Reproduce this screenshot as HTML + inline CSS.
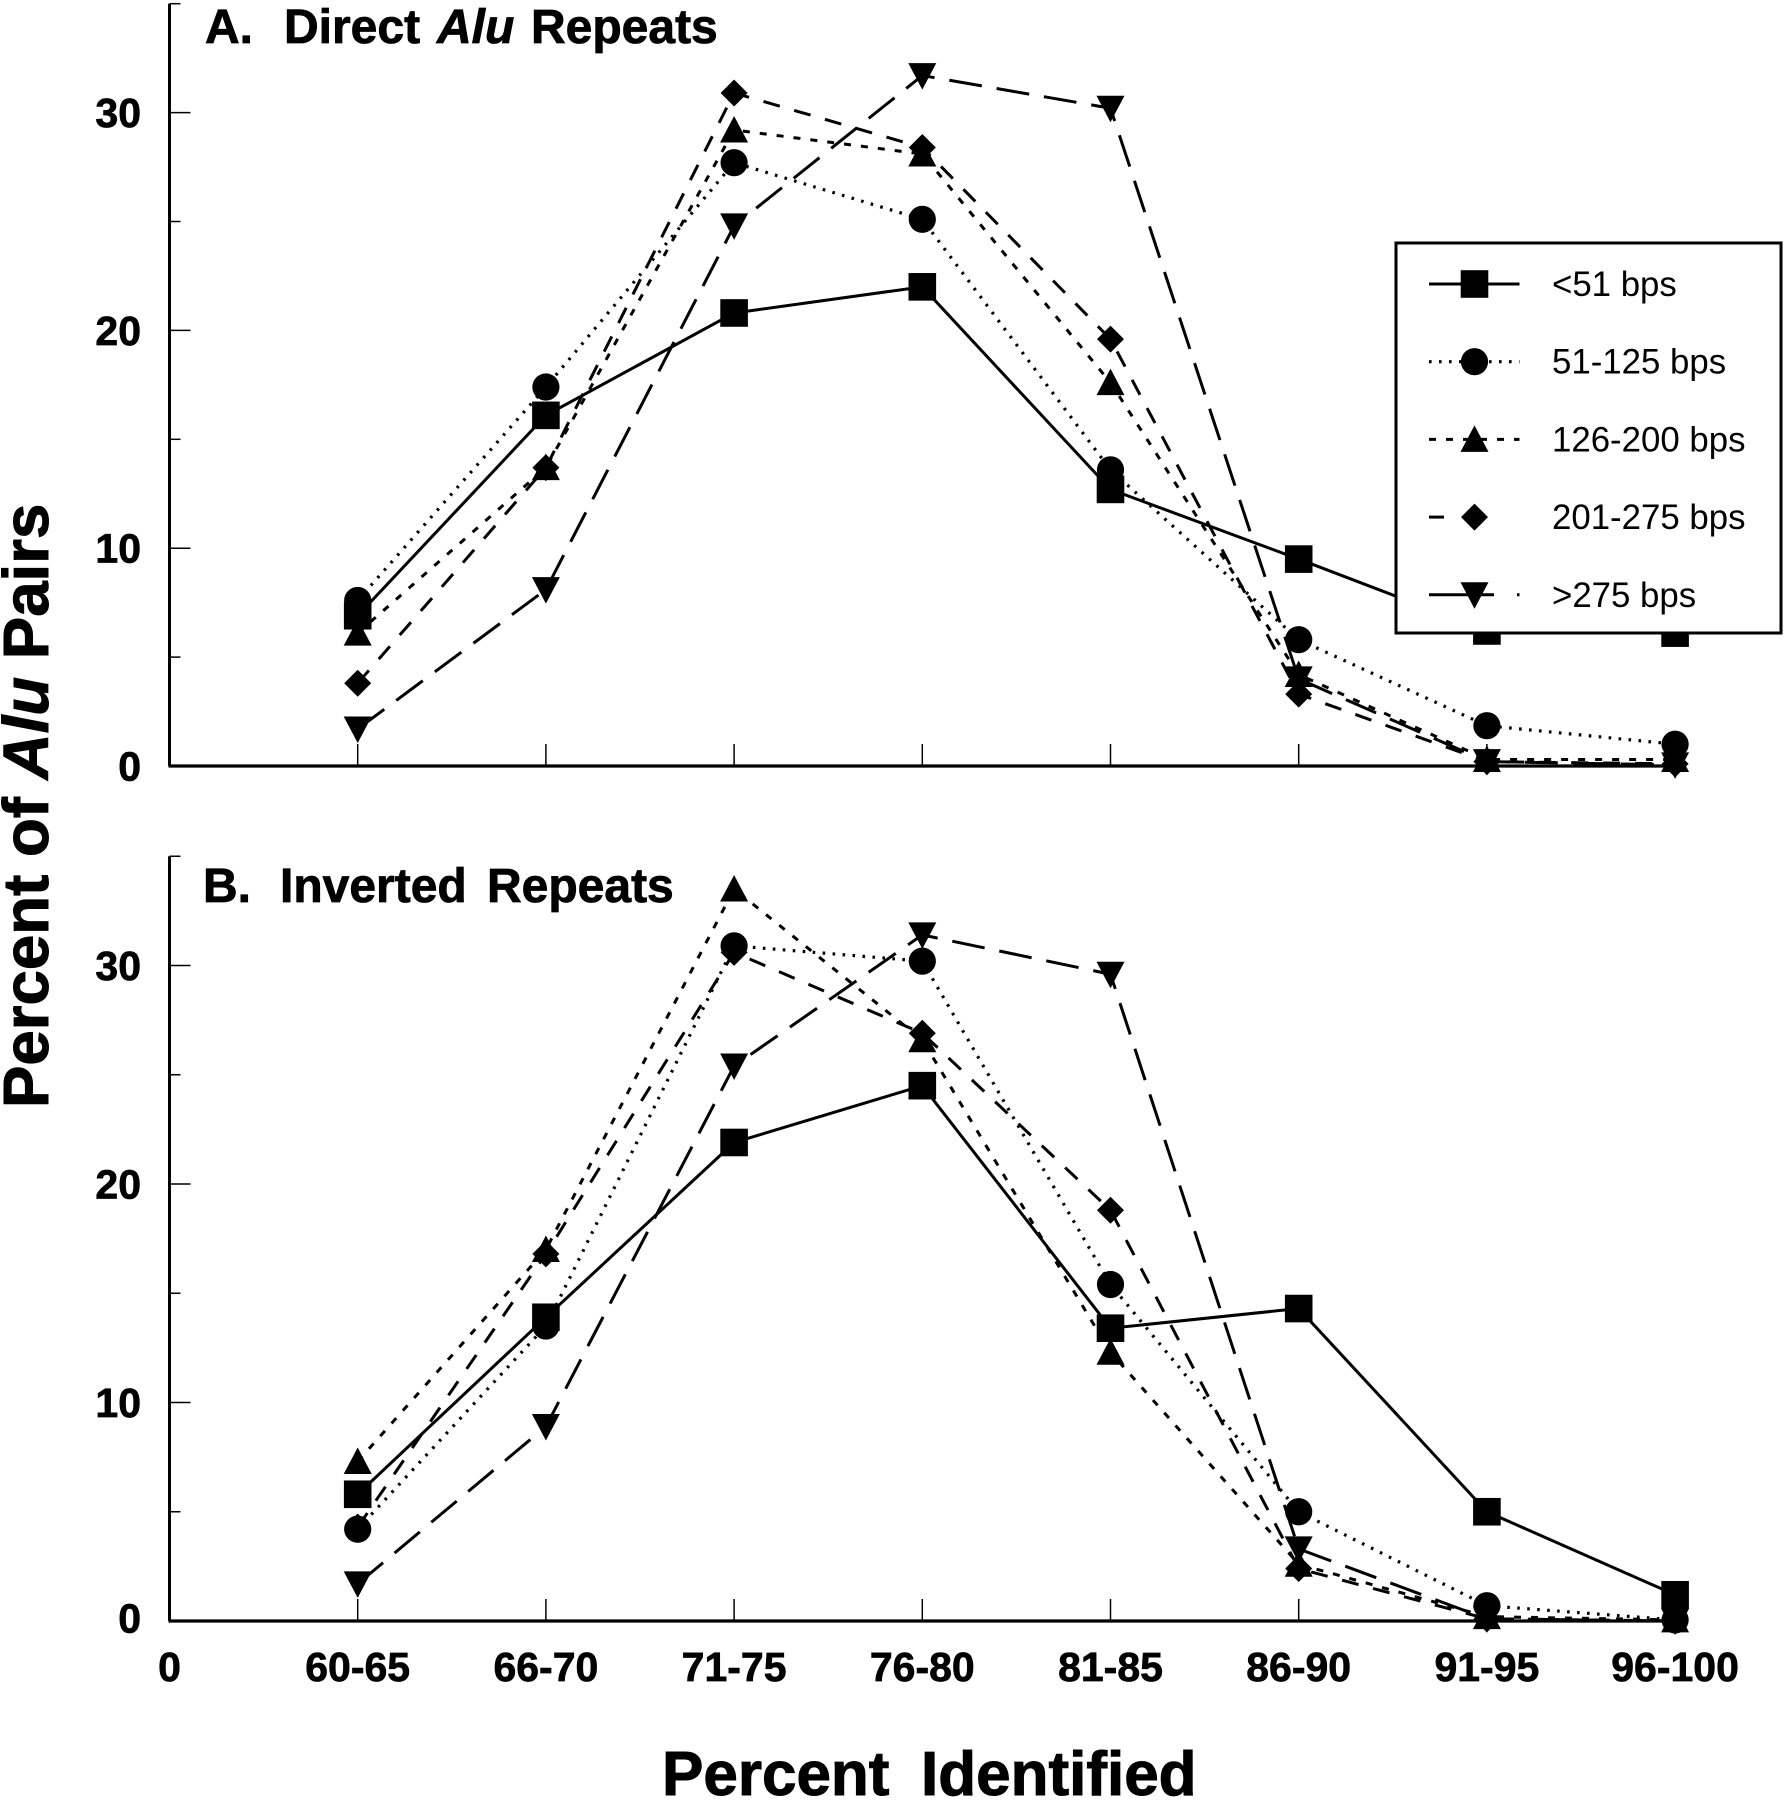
<!DOCTYPE html>
<html lang="en">
<head>
<meta charset="utf-8">
<title>Percent of Alu Pairs by Percent Identified</title>
<style>
  html, body { margin: 0; padding: 0; background: #fff; }
  #chart { display: block; width: 1785px; height: 1800px; }
  text { font-family: "Liberation Sans", Arial, sans-serif; fill: #000; }
  .tick-label { font-size: 41px; font-weight: bold; stroke: #000; stroke-width: 0.7px; }
  .panel-title { font-size: 48px; font-weight: bold; stroke: #000; stroke-width: 0.8px; }
  .axis-title { font-size: 62px; font-weight: bold; stroke: #000; stroke-width: 1px; }
  .y-title { font-size: 63.6px; }
  .legend-label { font-size: 34.8px; }
</style>
</head>
<body>
<svg id="chart" xmlns="http://www.w3.org/2000/svg" width="1785" height="1800" viewBox="0 0 1785 1800">
  <g id="panel-a"></g>
  <g id="panel-b"></g>

  <text class="panel-title" y="43"><tspan x="205">A.</tspan><tspan x="284">Direct</tspan><tspan x="437" font-style="italic">Alu</tspan><tspan x="531">Repeats</tspan></text>
  <text class="panel-title" y="902"><tspan x="203">B.</tspan><tspan x="280">Inverted</tspan><tspan x="487">Repeats</tspan></text>

  <text class="axis-title y-title" transform="translate(48 1108) rotate(-90)">Percent of <tspan font-style="italic">Alu</tspan> Pairs</text>
  <text class="axis-title" y="1795"><tspan x="662">Percent</tspan><tspan x="921">Identified</tspan></text>

  <g id="legend">
    <rect x="1396" y="243" width="385" height="390" fill="#fff" stroke="#000" stroke-width="3"></rect>
  </g>
</svg>
<script>
const categories = ['60-65', '66-70', '71-75', '76-80', '81-85', '86-90', '91-95', '96-100'];
const yMajorTicks = [0, 10, 20, 30];
const yMinorTicks = [5, 15, 25, 35];
const seriesNames = ['<51 bps', '51-125 bps', '126-200 bps', '201-275 bps', '>275 bps'];

const panelA_lt51 = [6.9, 16.1, 20.8, 22.0, 12.7, 9.5, 6.2, 6.1];
const panelA_51to125 = [7.6, 17.4, 27.7, 25.1, 13.6, 5.8, 1.85, 1.0];
const panelA_126to200 = [6.1, 13.7, 29.2, 28.1, 17.6, 4.2, 0.3, 0.3];
const panelA_201to275 = [3.8, 13.7, 30.9, 28.4, 19.6, 3.3, 0.2, 0.1];
const panelA_gt275 = [1.7, 8.1, 24.8, 31.7, 30.2, 4.0, 0.2, 0.05];

const panelB_lt51 = [5.8, 13.9, 21.9, 24.5, 13.4, 14.3, 5.0, 1.2];
const panelB_51to125 = [4.2, 13.5, 30.9, 30.2, 15.4, 5.0, 0.7, 0.05];
const panelB_126to200 = [7.3, 17.0, 33.5, 26.6, 12.3, 2.6, 0.2, 0.05];
const panelB_201to275 = [4.3, 16.8, 30.6, 26.9, 18.8, 2.4, 0.1, 0.0];
const panelB_gt275 = [1.7, 8.9, 25.4, 31.4, 29.6, 3.3, 0.1, 0.0];

const NS = 'http://www.w3.org/2000/svg';
const X_ZERO = 169.5;
const X_STEP = 188.2;
const AXIS_TOP_VALUE = 35;
const AXIS_RIGHT = 1686;

const seriesStyles = [
  { key: 'lt-51', shape: 'square', dash: null, legendDash: null, width: 3 },
  { key: '51-125', shape: 'circle', dash: '2.6 7.4', legendDash: '2.6 7.4', width: 3.2 },
  { key: '126-200', shape: 'triangle', dash: '7 10', legendDash: '7 10', width: 3 },
  { key: '201-275', shape: 'diamond', dash: '17 15', legendDash: '15 85 6 0', width: 3 },
  { key: 'gt-275', shape: 'triangle-down', dash: '33 15', legendDash: '65 23 3 0', width: 3 }
];

function make(tag, attrs, parent) {
  const el = document.createElementNS(NS, tag);
  for (const k in attrs) el.setAttribute(k, attrs[k]);
  parent.appendChild(el);
  return el;
}

function xScale(i) { return X_ZERO + X_STEP * (i + 1); }
function yScaleFor(baseY, unit) { return function (v) { return baseY - v * unit; }; }

function drawMarker(shape, cx, cy, parent) {
  let el;
  if (shape === 'square') {
    el = make('rect', { x: cx - 13.8, y: cy - 13.8, width: 27.6, height: 27.6, fill: '#000' }, parent);
  } else if (shape === 'circle') {
    el = make('circle', { cx: cx, cy: cy, r: 13.6, fill: '#000' }, parent);
  } else if (shape === 'triangle') {
    el = make('polygon', { points: (cx - 14) + ',' + (cy + 12.5) + ' ' + (cx + 14) + ',' + (cy + 12.5) + ' ' + cx + ',' + (cy - 14), fill: '#000' }, parent);
  } else if (shape === 'diamond') {
    el = make('polygon', { points: cx + ',' + (cy - 13.5) + ' ' + (cx + 13.5) + ',' + cy + ' ' + cx + ',' + (cy + 13.5) + ' ' + (cx - 13.5) + ',' + cy, fill: '#000' }, parent);
  } else {
    el = make('polygon', { points: (cx - 14) + ',' + (cy - 12.5) + ' ' + (cx + 14) + ',' + (cy - 12.5) + ' ' + cx + ',' + (cy + 14), fill: '#000' }, parent);
  }
  return el;
}

function drawPanel(group, baseY, unit, seriesList, showCategoryLabels, panelKey) {
  const y = yScaleFor(baseY, unit);
  const topY = y(AXIS_TOP_VALUE);

  const yAxis = make('line', { x1: X_ZERO, x2: X_ZERO, y1: topY, y2: baseY, stroke: '#000', 'stroke-width': 3 }, group);
  
  

  const xAxis = make('line', { x1: X_ZERO - 1, x2: AXIS_RIGHT, y1: baseY, y2: baseY, stroke: '#000', 'stroke-width': 3.2 }, group);
  
  

  yMajorTicks.forEach(function (v) {
    if (v > 0) {
      const tick = make('line', { x1: X_ZERO, x2: X_ZERO + 21, y1: y(v), y2: y(v), stroke: '#000', 'stroke-width': 1.5 }, group);
      
      
    }
    const zeroShift = (v === 0 && panelKey === 'panel-b') ? -3 : 0;
    const label = make('text', { x: 141, y: y(v) + 14.5 + zeroShift, 'text-anchor': 'end', 'class': 'tick-label' }, group);
    label.textContent = String(v);
    
    
  });

  yMinorTicks.forEach(function (v) {
    const tick = make('line', { x1: X_ZERO, x2: X_ZERO + 11, y1: y(v), y2: y(v), stroke: '#000', 'stroke-width': 1.5 }, group);
    
    
  });

  categories.forEach(function (c, i) {
    const tick = make('line', { x1: xScale(i), x2: xScale(i), y1: baseY, y2: baseY - 22, stroke: '#000', 'stroke-width': 1.5 }, group);
    
    
    if (showCategoryLabels) {
      const label = make('text', { x: xScale(i), y: baseY + 60, 'text-anchor': 'middle', 'class': 'tick-label' }, group);
      label.textContent = c;
      
      
    }
  });

  if (showCategoryLabels) {
    const zero = make('text', { x: X_ZERO, y: baseY + 60, 'text-anchor': 'middle', 'class': 'tick-label' }, group);
    zero.textContent = '0';
    
    
  }

  seriesList.forEach(function (values, s) {
    const style = seriesStyles[s];
    const seriesGroup = make('g', {}, group);
    
    

    const points = values.map(function (v, i) { return xScale(i) + ',' + y(v); }).join(' ');
    const line = make('polyline', { points: points, fill: 'none', stroke: '#000', 'stroke-width': style.width }, seriesGroup);
    if (style.dash) line.setAttribute('stroke-dasharray', style.dash);
    
    

    values.forEach(function (v, i) {
      const marker = drawMarker(style.shape, xScale(i), y(v), seriesGroup);
      
      
    });
  });
}

drawPanel(document.getElementById('panel-a'), 766, 21.78,
  [panelA_lt51, panelA_51to125, panelA_126to200, panelA_201to275, panelA_gt275], false, 'panel-a');
drawPanel(document.getElementById('panel-b'), 1621, 21.85,
  [panelB_lt51, panelB_51to125, panelB_126to200, panelB_201to275, panelB_gt275], true, 'panel-b');

/* Legend is appended after the panels so it covers the lines beneath it. */
const legend = document.getElementById('legend');
document.getElementById('chart').appendChild(legend);
const legendFirstY = 284;
const legendStepY = 77.7;
seriesNames.forEach(function (name, i) {
  const style = seriesStyles[i];
  const rowY = legendFirstY + legendStepY * i;
  const row = make('g', {}, legend);
  
  

  const sample = make('line', { x1: 1429, x2: 1519.5, y1: rowY, y2: rowY, stroke: '#000', 'stroke-width': style.width }, row);
  if (style.legendDash) sample.setAttribute('stroke-dasharray', style.legendDash);
  
  

  const swatch = drawMarker(style.shape, 1474.5, rowY, row);
  
  

  const label = make('text', { x: 1552, y: rowY + 12, 'class': 'legend-label' }, row);
  label.textContent = name;
  
  
});
</script>
</body>
</html>
